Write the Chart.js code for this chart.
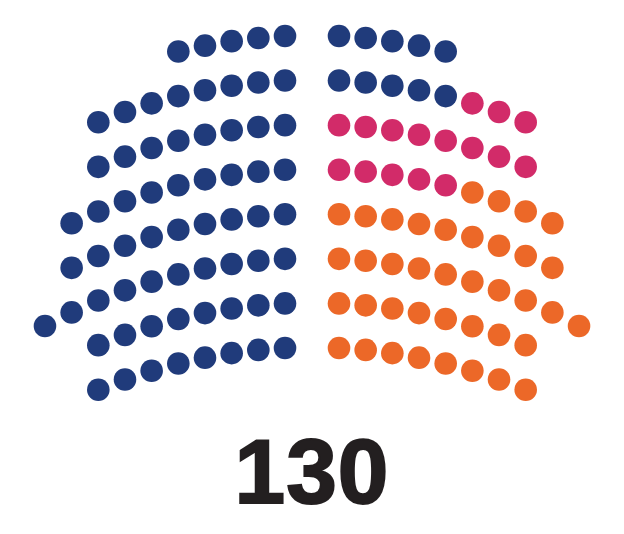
<!DOCTYPE html>
<html>
<head>
<meta charset="utf-8">
<script src="https://cdn.jsdelivr.net/npm/chart.js@4"></script>
<style>
  html, body { margin: 0; padding: 0; background: #ffffff; }
  #wrap { position: relative; width: 624px; height: 534px; }
  #chart { position: absolute; left: 0; top: 0; }
  #total {
    position: absolute; left: 0; width: 624px; top: 426px;
    text-align: center; font-family: "Liberation Sans", Arial, sans-serif;
    font-weight: 700; font-size: 91px; line-height: 91px; color: #231f20;
    -webkit-text-stroke: 2px #231f20; letter-spacing: 1px;
  }
</style>
</head>
<body>
<div id="wrap">
  <canvas id="chart" width="624" height="534"></canvas>
  <div id="total"></div>
</div>
<script>
// ---- data ----
const parties = ["Blue", "Magenta", "Orange"];
const seats = [75, 16, 39];
const colors = ["#203b7b", "#d22b69", "#ec6828"];
// seats per row on each side of the aisle, top row first
const rowSizes = [5, 8, 8, 9, 9, 10, 8, 8];

// ---- layout (seat positions derived from the row structure) ----
const CX = 312, GAP = 27, STEP = 26.67, TOP = 36, ROWSTEP = 44.57, R = 560;
function drop(dx) { return (R - Math.sqrt(R * R - dx * dx)) - (R - Math.sqrt(R * R - GAP * GAP)); }
function sideSeats(sign) {
  const list = [];
  rowSizes.forEach((n, r) => {
    for (let k = 0; k < n; k++) {
      const dx = GAP + STEP * k;
      list.push({ x: CX + sign * dx, y: TOP + ROWSTEP * r + drop(dx) });
    }
  });
  return list;
}
const order = sideSeats(-1).concat(sideSeats(1));

let idx = 0;
const datasets = parties.map((p, i) => {
  const pts = order.slice(idx, idx + seats[i]);
  idx += seats[i];
  return {
    label: p, data: pts,
    backgroundColor: colors[i], borderColor: colors[i], borderWidth: 0,
    pointRadius: 11.3, pointHoverRadius: 11.3, clip: false
  };
});

document.getElementById("total").textContent = seats.reduce((a, b) => a + b, 0);

new Chart(document.getElementById("chart"), {
  type: "scatter",
  data: { datasets },
  options: {
    responsive: false, animation: false,
    layout: { padding: 0, autoPadding: false },
    plugins: { legend: { display: false }, tooltip: { enabled: false } },
    scales: {
      x: { type: "linear", min: 0, max: 624, display: false },
      y: { type: "linear", min: 0, max: 534, reverse: true, display: false }
    }
  }
});
</script>
</body>
</html>
